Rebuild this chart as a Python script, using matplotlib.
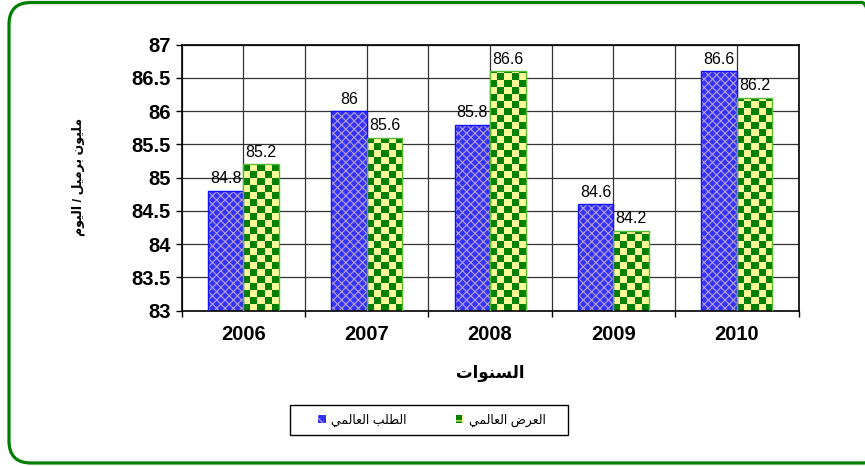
import numpy as np
import matplotlib
matplotlib.use("Agg")
import matplotlib.pyplot as plt
from matplotlib.patches import FancyBboxPatch, Rectangle, Patch

plt.rcParams['font.family'] = ['Liberation Sans', 'DejaVu Sans']
plt.rcParams['hatch.linewidth'] = 0.8

# ---------------- data ----------------
years = ['2006', '2007', '2008', '2009', '2010']
demand = [84.8, 86.0, 85.8, 84.6, 86.6]   # الطلب العالمي
supply = [85.2, 85.6, 86.6, 84.2, 86.2]   # العرض العالمي
yticks = [83, 83.5, 84, 84.5, 85, 85.5, 86, 86.5, 87]
ylabel_txt = 'مليون برميل / اليوم'
xlabel_txt = 'السنوات'
demand_name = 'الطلب العالمي'
supply_name = 'العرض العالمي'

# ---------------- minimal Arabic shaping (presentation forms + RTL) ----------------
_forms = {
    'ا': ('\uFE8D', '\uFE8E', None, None),
    'ب': ('\uFE8F', '\uFE90', '\uFE91', '\uFE92'),
    'ت': ('\uFE95', '\uFE96', '\uFE97', '\uFE98'),
    'ر': ('\uFEAD', '\uFEAE', None, None),
    'س': ('\uFEB1', '\uFEB2', '\uFEB3', '\uFEB4'),
    'ض': ('\uFEBD', '\uFEBE', '\uFEBF', '\uFEC0'),
    'ط': ('\uFEC1', '\uFEC2', '\uFEC3', '\uFEC4'),
    'ع': ('\uFEC9', '\uFECA', '\uFECB', '\uFECC'),
    'ل': ('\uFEDD', '\uFEDE', '\uFEDF', '\uFEE0'),
    'م': ('\uFEE1', '\uFEE2', '\uFEE3', '\uFEE4'),
    'ن': ('\uFEE5', '\uFEE6', '\uFEE7', '\uFEE8'),
    'و': ('\uFEED', '\uFEEE', None, None),
    'ي': ('\uFEF1', '\uFEF2', '\uFEF3', '\uFEF4'),
}


def shape(s):
    out = []
    for i, c in enumerate(s):
        if c not in _forms:
            out.append(c)
            continue
        prev = s[i - 1] if i > 0 else ''
        nxt = s[i + 1] if i + 1 < len(s) else ''
        jp = prev in _forms and _forms[prev][2] is not None
        jn = _forms[c][2] is not None and nxt in _forms
        iso, fin, ini, med = _forms[c]
        if jp and jn:
            out.append(med)
        elif jp:
            out.append(fin)
        elif jn:
            out.append(ini)
        else:
            out.append(iso)
    return ''.join(reversed(out))


# ---------------- figure ----------------
W, H = 865, 466
fig = plt.figure(figsize=(W / 100, H / 100), dpi=100)
ax = fig.add_axes([181.7 / W, 1 - 310.7 / H, (798.5 - 181.7) / W, (310.7 - 44.7) / H])

blue = '#3333FF'
blue_hatch = '#B8A0D0'
green = '#008000'
yellow = '#FFFF99'

x = np.arange(len(years))
w = 0.288

# demand bars: blue with a fine cross pattern
ax.bar(x - w / 2, demand, w, color=blue, edgecolor=blue_hatch, hatch='xxxx', linewidth=0, zorder=2)
ax.bar(x - w / 2, demand, w, fill=False, edgecolor='#1010FF', linewidth=1.0, zorder=3)

# supply bars: checkerboard green / yellow
ymin, ymax = 83, 87
ax.set_ylim(ymin, ymax)
sup_bars = ax.bar(x + w / 2, supply, w, color=green, linewidth=0, zorder=2)
cell = 0.105
for p in sup_bars:
    x0 = p.get_x()
    x1 = x0 + p.get_width()
    top = p.get_height()
    nrows = int(np.ceil((top - ymin) / cell))
    ncols = 5
    board = (np.add.outer(np.arange(nrows), np.arange(ncols)) % 2)
    img = np.where(board[..., None] == 0,
                   np.array(matplotlib.colors.to_rgb(green)),
                   np.array(matplotlib.colors.to_rgb(yellow)))
    im = ax.imshow(img, extent=(x0, x1, ymin, ymin + nrows * cell), origin='lower',
                   aspect='auto', interpolation='nearest', zorder=2.5)
    im.set_clip_path(p)
ax.bar(x + w / 2, supply, w, fill=False, edgecolor='#55BB33', linewidth=1.0, zorder=3)

# value labels
for xi, v in zip(x - w / 2, demand):
    ax.annotate(f'{v:g}', (xi, v), xytext=(0, 5.5), textcoords='offset points',
                ha='center', va='baseline', fontsize=11.5, zorder=4)
for xi, v in zip(x + w / 2, supply):
    ax.annotate(f'{v:g}', (xi, v), xytext=(0, 5.5), textcoords='offset points',
                ha='center', va='baseline', fontsize=11.5, zorder=4)

# axes, ticks, grid
ax.set_xlim(-0.5, len(years) - 0.5)
ax.set_yticks(yticks)
ax.set_yticklabels([f'{t:g}' for t in yticks], fontsize=14.5, fontweight='bold')
ax.set_xticks(np.arange(-0.5, len(years), 1.0))
ax.set_xticklabels([])
ax.set_xticks(x, minor=True)
ax.set_xticklabels(years, minor=True, fontsize=14.5, fontweight='bold')
ax.tick_params(axis='x', which='major', length=4, width=1, color='black')
ax.tick_params(axis='x', which='minor', length=0, pad=10)
ax.tick_params(axis='y', length=4, width=1, pad=4)
ax.grid(True, axis='y', color='#333333', linewidth=0.9, zorder=0)
ax.grid(True, axis='x', which='both', color='#333333', linewidth=0.9, zorder=0)
ax.set_axisbelow(True)
for s in ax.spines.values():
    s.set_color('black')
    s.set_linewidth(1.2)

# axis titles
fig.text(78 / W, 1 - 177 / H, shape(ylabel_txt), rotation=90, ha='center', va='center',
         fontsize=9, fontweight='bold')
fig.text(490 / W, 1 - 373 / H, shape(xlabel_txt), ha='center', va='center',
         fontsize=12, fontweight='bold')

# legend
handles = [Patch(facecolor=blue, edgecolor=blue_hatch, hatch='xx', linewidth=0),
           Patch(facecolor=green, edgecolor=yellow, hatch='++', linewidth=0)]
leg = fig.legend(handles, [shape(demand_name), shape(supply_name)], loc='center',
                 bbox_to_anchor=(432 / W, 1 - 420 / H), ncol=2, frameon=False,
                 fontsize=9, handlelength=0.6, handleheight=0.6, handletextpad=0.45,
                 columnspacing=3.9)
fig.add_artist(Rectangle((290 / W, 1 - 435 / H), (568 - 290) / W, 30 / H,
                         transform=fig.transFigure, fill=False, edgecolor='black', linewidth=1.0))

# outer rounded green border
border = FancyBboxPatch((0.09, 0.03), 8.75, 4.605, boxstyle='round,pad=0,rounding_size=0.22',
                        transform=fig.dpi_scale_trans, fill=False, edgecolor='#008000',
                        linewidth=2.3, clip_on=False)
fig.add_artist(border)

fig.savefig('out.png', dpi=100)
